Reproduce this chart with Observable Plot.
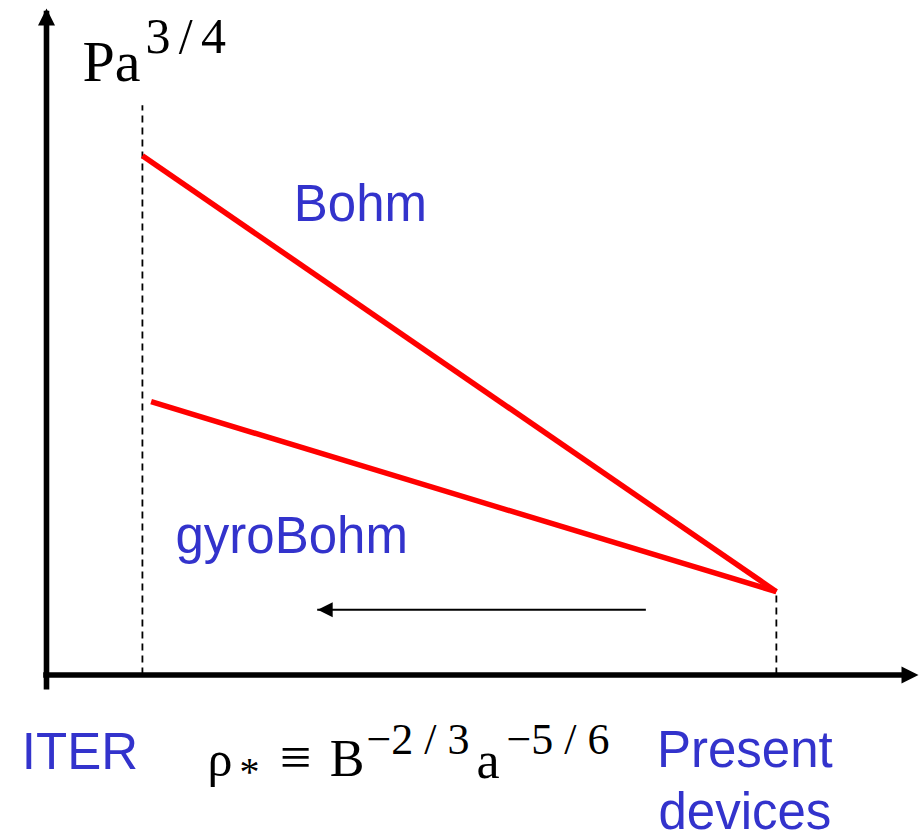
<!DOCTYPE html>
<html>
<head>
<meta charset="utf-8">
<script src="https://cdn.jsdelivr.net/npm/d3@7"></script>
<script src="https://cdn.jsdelivr.net/npm/@observablehq/plot@0.6"></script>
<style>
  html, body { margin: 0; padding: 0; background: #fff; }
  #chart svg { display: block; }
</style>
</head>
<body>
<div id="chart"></div>
<script>
// Schematic: confinement (Pa^3/4) versus normalized gyroradius ρ*, in arbitrary units 0–100.
const regimes = ["Bohm", "gyroBohm"];
const regimeStartX = [11.0, 12.0];   // where each scaling line starts (ITER side)
const regimeStartY = [77.9, 41.0];
const presentX = 83.7;               // present devices: common starting point
const presentY = 12.5;

const devices = ["ITER", "Present\ndevices"];
const deviceX = [11.0, 83.7];
const deviceMarkTop = [85.4, presentY];

const trendFrom = 67.3;              // arrow toward smaller ρ*
const trendTo = 31.1;
const trendY = 9.8;

// axis titles, split into base and superscript pieces
const yLabel = ["Pa", "3\u2006/\u20064"];
const xLabel = ["ρ", "*", "≡", "B", "−2 / 3", "a", "−5 / 6"];

const blue = "#3333CC";
const sans = "'Liberation Sans', Arial, Helvetica, sans-serif";
const serif = "'Liberation Serif', 'Times New Roman', Times, serif";

// Filled arrowhead symbols with the tip at the origin.
function arrowHead(dir) {
  return {
    draw(ctx, size) {
      const r = Math.sqrt(size / Math.PI), L = 2 * r;
      const pts = dir === "up" ? [[0, 0], [-r, L], [r, L]]
                : dir === "right" ? [[0, 0], [-L, -r], [-L, r]]
                : [[0, 0], [L, -r], [L, r]];
      ctx.moveTo(pts[0][0], pts[0][1]);
      ctx.lineTo(pts[1][0], pts[1][1]);
      ctx.lineTo(pts[2][0], pts[2][1]);
      ctx.closePath();
    }
  };
}

const lines = regimes.map((name, i) => ({
  name, x1: regimeStartX[i], y1: regimeStartY[i], x2: presentX, y2: presentY
}));
const marks = devices.map((name, i) => ({name, x: deviceX[i], top: deviceMarkTop[i]}));

const serifText = (t, o) => Plot.text([t], {frameAnchor: "bottom-left", lineAnchor: "bottom", fill: "#000", fontFamily: serif, ...o});

const chart = Plot.plot({
  width: 921,
  height: 835,
  marginLeft: 46,
  marginRight: 3,
  marginTop: 8,
  marginBottom: 160.5,
  x: {domain: [0, 100], axis: null},
  y: {domain: [0, 100], axis: null},
  marks: [
    // dashed device markers
    Plot.ruleX(marks, {x: "x", y1: 0, y2: "top", stroke: "#000", strokeWidth: 1.8, strokeDasharray: "7,5"}),
    // scaling lines
    Plot.link(lines, {x1: "x1", y1: "y1", x2: "x2", y2: "y2", stroke: "#ff0000", strokeWidth: 5.5}),
    // axes with arrowheads
    Plot.ruleX([0], {y1: 0, y2: 100, stroke: "#000", strokeWidth: 5.6, insetTop: 15, insetBottom: -2.8}),
    Plot.ruleY([0], {x1: 0, x2: 100, stroke: "#000", strokeWidth: 5.6, insetRight: 15, insetLeft: -2.8}),
    Plot.dot([{x: 0, y: 100}], {x: "x", y: "y", r: 8.5, symbol: arrowHead("up"), fill: "#000", stroke: null}),
    Plot.dot([{x: 100, y: 0}], {x: "x", y: "y", r: 8.5, symbol: arrowHead("right"), fill: "#000", stroke: null}),
    // trend arrow toward ITER
    Plot.ruleY([trendY], {x1: trendFrom, x2: trendTo, stroke: "#000", strokeWidth: 2, insetLeft: 13}),
    Plot.dot([{x: trendTo, y: trendY}], {x: "x", y: "y", r: 7.5, symbol: arrowHead("left"), fill: "#000", stroke: null}),
    // regime labels
    Plot.text([lines[0]], {x: "x1", y: "y1", text: "name", dx: 218, dy: 65.5, textAnchor: "middle", lineAnchor: "bottom",
      fill: blue, fontSize: 51, fontFamily: sans}),
    Plot.text([lines[1]], {x: "x1", y: "y1", text: "name", dx: 140.5, dy: 151.5, textAnchor: "middle", lineAnchor: "bottom",
      fill: blue, fontSize: 51, fontFamily: sans}),
    // device labels
    Plot.text([marks[0]], {x: "x", y: 0, text: "name", dx: -62.5, dy: 93.5, textAnchor: "middle", lineAnchor: "bottom",
      fill: blue, fontSize: 51, fontFamily: sans}),
    Plot.text([marks[1]], {x: "x", y: 0, text: "name", dx: -31.5, dy: 153.5, textAnchor: "middle", lineAnchor: "bottom",
      lineHeight: 1.2, fill: blue, fontSize: 51, fontFamily: sans}),
    // y-axis title: Pa^{3/4}
    Plot.text([yLabel[0]], {frameAnchor: "top-left", dx: 36, dy: 72, textAnchor: "start", lineAnchor: "bottom",
      fill: "#000", fontSize: 58, fontFamily: serif}),
    Plot.text([yLabel[1]], {frameAnchor: "top-left", dx: 99, dy: 44, textAnchor: "start", lineAnchor: "bottom",
      fill: "#000", fontSize: 50, fontFamily: serif}),
    // x-axis title: ρ* ≡ B^{-2/3} a^{-5/6}
    serifText(xLabel[0], {dx: 161, dy: 100.5, textAnchor: "start", fontSize: 50}),
    serifText(xLabel[1], {dx: 203, dy: 110, textAnchor: "middle", fontSize: 40}),
    serifText(xLabel[2], {dx: 249, dy: 100.5, textAnchor: "middle", fontSize: 56}),
    serifText(xLabel[3], {dx: 318, dy: 100.5, textAnchor: "end", fontSize: 52}),
    serifText(xLabel[4], {dx: 320, dy: 78.5, textAnchor: "start", fontSize: 44}),
    serifText(xLabel[5], {dx: 430, dy: 102.5, textAnchor: "start", fontSize: 52}),
    serifText(xLabel[6], {dx: 460, dy: 78.5, textAnchor: "start", fontSize: 44})
  ]
});

document.getElementById("chart").appendChild(chart);
</script>
</body>
</html>
